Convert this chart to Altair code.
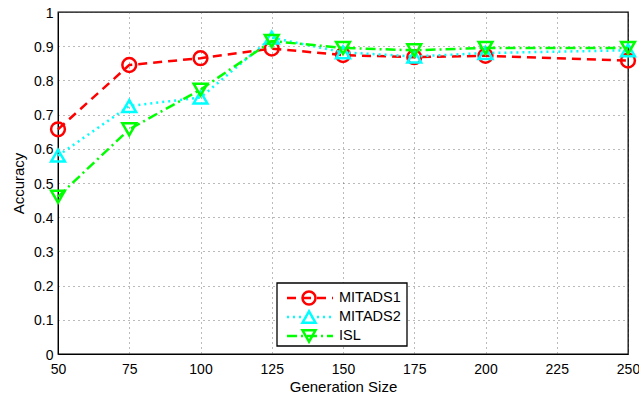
import altair as alt
import pandas as pd

sizes = [50, 75, 100, 125, 150, 175, 200, 250]
mitads1 = [0.657, 0.845, 0.865, 0.893, 0.874, 0.868, 0.872, 0.858]
mitads2 = [0.580, 0.725, 0.750, 0.925, 0.882, 0.870, 0.880, 0.888]
isl = [0.460, 0.657, 0.773, 0.915, 0.895, 0.888, 0.895, 0.895]

series_names = ["MITADS1", "MITADS2", "ISL"]
series_values = [mitads1, mitads2, isl]
colors = ["#ff0000", "#00ffff", "#00ff00"]
dashes = [[9, 6], [2, 4], [10, 4, 2, 4]]
shapes = ["circle", "triangle-up", "triangle-down"]
x_ticks = [50, 75, 100, 125, 150, 175, 200, 225, 250]
y_ticks = [round(i * 0.1, 1) for i in range(11)]

FONT = "Liberation Sans"
W, H = 570, 342

x_scale = alt.Scale(domain=[50, 250], nice=False)
y_scale = alt.Scale(domain=[0, 1], nice=False)

layers = []
for i, (name, vals) in enumerate(zip(series_names, series_values)):
    df = pd.DataFrame({"size": sizes, "acc": vals, "series": name})
    base = alt.Chart(df).encode(
        x=alt.X("size:Q", scale=x_scale,
                axis=alt.Axis(values=x_ticks, title="Generation Size", format="d")),
        y=alt.Y("acc:Q", scale=y_scale,
                axis=alt.Axis(values=y_ticks, title="Accuracy", format="~g")),
    )
    layers.append(base.mark_line(color=colors[i], strokeWidth=2.5, strokeDash=dashes[i]))
    layers.append(base.mark_point(color=colors[i], shape=shapes[i], filled=False,
                                  strokeWidth=2.5, size=190, opacity=1))

one = pd.DataFrame({"a": [0]})
# legend box
layers.append(alt.Chart(one).mark_rect(fill="white", stroke="black", strokeWidth=1.3).encode(
    x=alt.value(219), x2=alt.value(349), y=alt.value(271), y2=alt.value(334)))
row_y = [286, 305, 324]
for i, name in enumerate(series_names):
    layers.append(alt.Chart(one).mark_rule(color=colors[i], strokeWidth=2.5,
                                           strokeDash=dashes[i]).encode(
        x=alt.value(229), x2=alt.value(275), y=alt.value(row_y[i])))
    layers.append(alt.Chart(one).mark_point(color=colors[i], shape=shapes[i], filled=False,
                                            strokeWidth=2.5, size=170, opacity=1).encode(
        x=alt.value(251), y=alt.value(row_y[i])))
    layers.append(alt.Chart(one).mark_text(text=name, align="left", baseline="middle",
                                           font=FONT, fontSize=14.5, color="black").encode(
        x=alt.value(281), y=alt.value(row_y[i])))

chart = alt.layer(*layers).properties(
    width=W, height=H,
    autosize=alt.AutoSizeParams(type="none"),
    padding={"left": 58, "top": 12, "right": 11, "bottom": 44},
).configure_view(stroke="black", strokeWidth=1.3).configure_axis(
    labelFont=FONT, titleFont=FONT, labelFontSize=14, titleFontSize=15,
    titleFontWeight="normal", labelColor="black", titleColor="black",
    domainColor="black", ticks=False, labelFlush=False, labelOverlap=False,
    gridColor="#555555", gridDash=[1, 4], gridWidth=1, gridOpacity=0.8,
).configure_axisX(titlePadding=3, labelPadding=8).configure_axisY(
    titlePadding=7, labelPadding=5, labelBaseline="alphabetic", labelOffset=5)

chart.save("out.html", embed_options={"renderer": "svg", "actions": False})
